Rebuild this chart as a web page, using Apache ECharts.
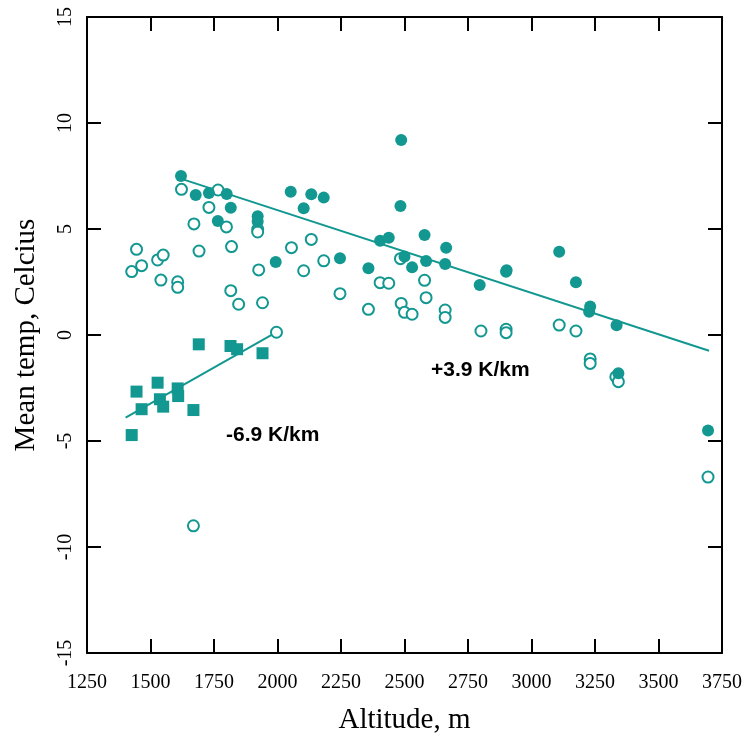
<!DOCTYPE html>
<html>
<head>
<meta charset="utf-8">
<script src="https://cdn.jsdelivr.net/npm/echarts@6/dist/echarts.min.js"></script>
<style>
  html, body { margin: 0; padding: 0; background: #fff; }
  #chart { width: 746px; height: 744px; }
</style>
</head>
<body>
<div id="chart"></div>
<script>
// filled circles
const filledAlt = [1620, 1678, 1730, 1800, 1765, 1816, 1922, 1922, 1993, 2052, 2103, 2133, 2182, 2246, 2358, 2404, 2438, 2487, 2484, 2500, 2530, 2579, 2585, 2664, 2660, 2796, 2902, 2900, 3109, 3175, 3231, 3227, 3335, 3342, 3695];
const filledTemp = [7.5, 6.6, 6.7, 6.65, 5.38, 6.0, 5.6, 5.35, 3.44, 6.76, 5.98, 6.64, 6.48, 3.62, 3.15, 4.45, 4.59, 9.2, 6.08, 3.7, 3.19, 4.72, 3.49, 4.12, 3.35, 2.36, 3.05, 2.98, 3.93, 2.49, 1.34, 1.1, 0.46, -1.8, -4.5];

// open circles
const openAlt = [1622, 1766, 1730, 1671, 1799, 1922, 1922, 1445, 1691, 1819, 1926, 2055, 1426, 1465, 1528, 1550, 1541, 1607, 1607, 1816, 1847, 1941, 1996, 1669, 2133, 2103, 2182, 2246, 2358, 2404, 2438, 2484, 2487, 2500, 2530, 2579, 2585, 2660, 2660, 2801, 2900, 2900, 3109, 3175, 3231, 3231, 3332, 3342, 3695];
const openTemp = [6.87, 6.84, 6.02, 5.24, 5.1, 4.98, 4.86, 4.04, 3.96, 4.17, 3.07, 4.12, 2.99, 3.27, 3.54, 3.77, 2.59, 2.51, 2.25, 2.09, 1.45, 1.52, 0.13, -9.0, 4.51, 3.03, 3.5, 1.95, 1.21, 2.47, 2.44, 3.6, 1.49, 1.07, 0.98, 2.58, 1.76, 1.18, 0.83, 0.19, 0.27, 0.11, 0.47, 0.19, -1.13, -1.34, -1.97, -2.2, -6.7];

// filled squares
const squareAlt = [1445, 1528, 1465, 1537, 1550, 1607, 1609, 1426, 1669, 1690, 1815, 1841, 1941];
const squareTemp = [-2.67, -2.25, -3.5, -3.03, -3.38, -2.52, -2.88, -4.72, -3.54, -0.44, -0.52, -0.67, -0.86];

// regression lines (endpoints)
const upperLineAlt = [1628, 3699];
const upperLineTemp = [7.34, -0.74];
const lowerLineAlt = [1402, 1996];
const lowerLineTemp = [-3.9, 0.13];

const xTicks = [1250, 3750, 250];
const yTicks = [-15, 15, 5];

const teal = '#129791';
const zip = (a, b) => a.map((v, i) => [v, b[i]]);

const chart = echarts.init(document.getElementById('chart'));

const frameAxis = {
    axisLine: { show: true, onZero: false, lineStyle: { color: '#000', width: 2 } },
    axisTick: { show: true, inside: true, length: 14, lineStyle: { color: '#000', width: 2 } },
    splitLine: { show: false }
};

const option = {
    animation: false,
    grid: { left: 87, right: 24, top: 17, bottom: 91 },
    xAxis: [
        Object.assign({
            type: 'value',
            position: 'bottom',
            min: xTicks[0], max: xTicks[1], interval: xTicks[2],
            name: 'Altitude, m',
            nameLocation: 'middle',
            nameGap: 53,
            nameTextStyle: { fontFamily: 'Liberation Serif', fontSize: 29, color: '#000' },
            axisLabel: {
                fontFamily: 'Liberation Serif', fontSize: 20, color: '#000', margin: 20,
                formatter: v => String(v)
            }
        }, frameAxis),
        Object.assign({
            type: 'value',
            position: 'top',
            min: xTicks[0], max: xTicks[1], interval: xTicks[2],
            axisLabel: { show: false }
        }, frameAxis)
    ],
    yAxis: [
        Object.assign({
            type: 'value',
            position: 'left',
            min: yTicks[0], max: yTicks[1], interval: yTicks[2],
            name: 'Mean temp, Celcius',
            nameLocation: 'middle',
            nameGap: 46,
            nameTextStyle: { fontFamily: 'Liberation Serif', fontSize: 29, color: '#000' },
            axisLabel: { fontFamily: 'Liberation Serif', fontSize: 20, color: '#000', margin: 11, rotate: 90 }
        }, frameAxis),
        Object.assign({
            type: 'value',
            position: 'right',
            min: yTicks[0], max: yTicks[1], interval: yTicks[2],
            axisLabel: { show: false }
        }, frameAxis)
    ],
    series: [
        {
            type: 'line',
            data: zip(upperLineAlt, upperLineTemp),
            symbol: 'none',
            lineStyle: { color: teal, width: 2 },
            z: 1
        },
        {
            type: 'line',
            data: zip(lowerLineAlt, lowerLineTemp),
            symbol: 'none',
            lineStyle: { color: teal, width: 2 },
            z: 1
        },
        {
            type: 'scatter',
            data: zip(openAlt, openTemp),
            symbol: 'circle',
            symbolSize: 11,
            itemStyle: { color: '#fff', borderColor: teal, borderWidth: 2, opacity: 1 },
            z: 2
        },
        {
            type: 'scatter',
            data: zip(filledAlt, filledTemp),
            symbol: 'circle',
            symbolSize: 12,
            itemStyle: { color: teal, opacity: 1 },
            z: 3
        },
        {
            type: 'scatter',
            data: zip(squareAlt, squareTemp),
            symbol: 'rect',
            symbolSize: 12,
            itemStyle: { color: teal, opacity: 1 },
            z: 3
        }
    ],
    graphic: [
        {
            type: 'text',
            left: 431, top: 360,
            style: { text: '+3.9 K/km', font: 'bold 21px "Liberation Sans", Arial, sans-serif', fill: '#000' }
        },
        {
            type: 'text',
            left: 226, top: 425,
            style: { text: '-6.9 K/km', font: 'bold 21px "Liberation Sans", Arial, sans-serif', fill: '#000' }
        }
    ]
};

chart.setOption(option);
</script>
</body>
</html>
